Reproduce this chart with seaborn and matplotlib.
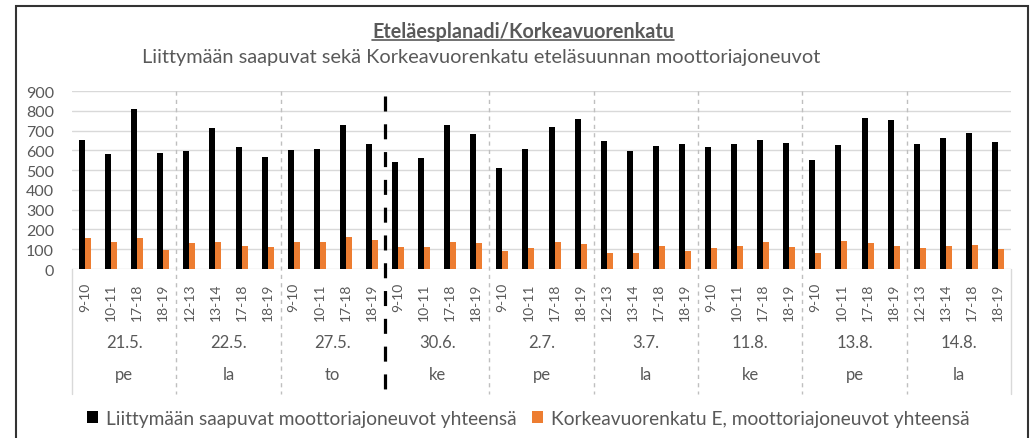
import numpy as np
import pandas as pd
import matplotlib
matplotlib.use("Agg")
import matplotlib.pyplot as plt
import matplotlib.transforms as mtransforms
from matplotlib.lines import Line2D
from matplotlib.patches import Rectangle
import seaborn as sns

# --- data ---
dates = ["21.5.", "22.5.", "27.5.", "30.6.", "2.7.", "3.7.", "11.8.", "13.8.", "14.8."]
weekdays = ["pe", "la", "to", "ke", "pe", "la", "ke", "pe", "la"]
hours = [
    "9-10", "10-11", "17-18", "18-19",
    "12-13", "13-14", "17-18", "18-19",
    "9-10", "10-11", "17-18", "18-19",
    "9-10", "10-11", "17-18", "18-19",
    "9-10", "10-11", "17-18", "18-19",
    "12-13", "13-14", "17-18", "18-19",
    "9-10", "10-11", "17-18", "18-19",
    "9-10", "10-11", "17-18", "18-19",
    "12-13", "13-14", "17-18", "18-19",
]
total_in = [651, 580, 811, 589, 597, 711, 616, 568, 600, 609, 726, 631,
            541, 563, 729, 682, 511, 607, 717, 756, 647, 597, 622, 634,
            615, 630, 651, 637, 549, 627, 766, 755, 633, 663, 689, 640]
korkea_e = [157, 135, 157, 94, 130, 139, 117, 110, 135, 139, 164, 145,
            113, 113, 139, 130, 89, 108, 137, 127, 79, 79, 117, 90,
            108, 117, 135, 111, 79, 142, 130, 117, 105, 117, 123, 101]
series_names = ["Liittymään saapuvat moottoriajoneuvot yhteensä",
                "Korkeavuorenkatu E, moottoriajoneuvot yhteensä"]

n = len(hours)
df = pd.DataFrame({
    "slot": list(range(n)) * 2,
    "value": total_in + korkea_e,
    "series": [series_names[0]] * n + [series_names[1]] * n,
})

sns.set_theme(style="white")
plt.rcParams["font.family"] = ["Lato", "DejaVu Sans"]
gray = "#595959"

W, H = 1031, 439
fig = plt.figure(figsize=(W / 100, H / 100), dpi=100)
ax = fig.add_axes([72 / W, 1 - 270 / H, (1011 - 72) / W, (270 - 92) / H])

sns.barplot(data=df, x="slot", y="value", hue="series", ax=ax,
            palette=["#000000", "#ED7D31"], width=0.46, linewidth=0,
            saturation=1)

ax.set_xlim(-0.5, n - 0.5)
ax.set_ylim(0, 900)
ax.set_yticks(range(0, 901, 100))
ax.yaxis.grid(True, color="#D9D9D9", lw=1)
ax.set_axisbelow(True)
for s in ax.spines.values():
    s.set_visible(False)
ax.set_xlabel("")
ax.set_ylabel("")
ax.set_xticks(range(n))
ax.set_xticklabels(hours, rotation=90, fontsize=10, color=gray, va="top")
ax.tick_params(axis="x", length=0, pad=9.5)
ax.tick_params(axis="y", length=0, pad=13, labelsize=11.5, labelcolor=gray)
handles, labels = ax.get_legend_handles_labels()
ax.get_legend().remove()

# category labels under the hours
trans = mtransforms.blended_transform_factory(ax.transData, fig.transFigure)
for i, (d, w) in enumerate(zip(dates, weekdays)):
    xc = i * 4 + 1.5
    fig.text(xc, 1 - 348 / H, d, transform=trans, ha="center", va="baseline",
             fontsize=12, color=gray)
    fig.text(xc, 1 - 380 / H, w, transform=trans, ha="center", va="baseline",
             fontsize=12, color=gray)

# group separators
for b in range(1, len(dates)):
    xb = b * 4 - 0.5
    if b == 3:
        fig.add_artist(Line2D([xb, xb], [1 - 97 / H, 1 - 395 / H], transform=trans,
                              color="black", lw=2.3, dashes=(4.7, 4.0)))
    else:
        fig.add_artist(Line2D([xb, xb], [1 - 92 / H, 1 - 395 / H], transform=trans,
                              color="#BFBFBF", lw=1, dashes=(3, 3)))
for xb in (-0.5, n - 0.5):
    fig.add_artist(Line2D([xb, xb], [1 - 270 / H, 1 - 395 / H], transform=trans,
                          color="#D9D9D9", lw=1))

# titles
title = fig.text(523 / W, 1 - 38.5 / H, "Eteläesplanadi/Korkeavuorenkatu",
                 ha="center", va="baseline", fontsize=14.2, fontweight="bold", color=gray)
fig.text(481 / W, 1 - 63 / H,
         "Liittymään saapuvat sekä Korkeavuorenkatu eteläsuunnan moottoriajoneuvot",
         ha="center", va="baseline", fontsize=14.4, color=gray)

fig.legend(handles, labels, loc="center", bbox_to_anchor=(528 / W, 1 - 419.5 / H),
           ncol=2, frameon=False, fontsize=13.8, labelcolor=gray,
           handlelength=0.6, handleheight=0.6, handletextpad=0.4, columnspacing=0.8)

# outer frame
fig.add_artist(Rectangle((16 / W, -0.05), (1028 - 16) / W, 1.05 - 7 / H,
                         transform=fig.transFigure, fill=False,
                         edgecolor="#333333", lw=1.5))

# underline title
fig.canvas.draw()
bb = title.get_window_extent()
fig.add_artist(Line2D([bb.x0 / W, bb.x1 / W], [1 - 40.5 / H] * 2,
                      transform=fig.transFigure, color=gray, lw=1.2))

fig.savefig("out.png", dpi=100)
